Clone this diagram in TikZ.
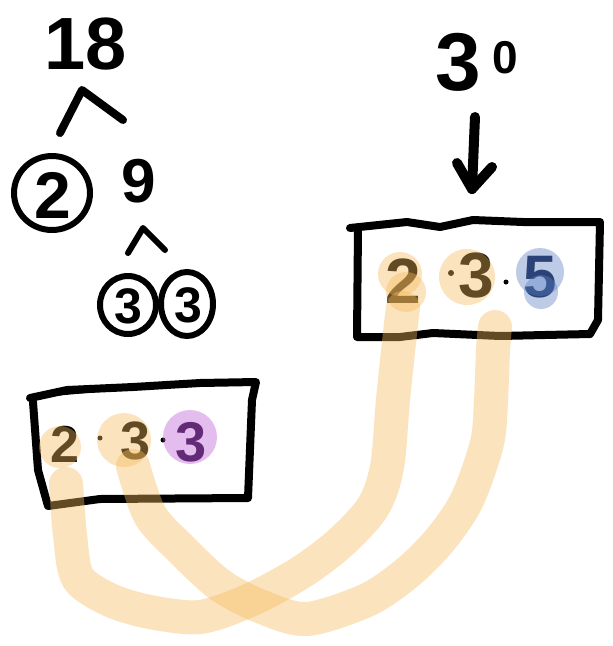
\documentclass[tikz,border=0pt]{standalone}
\usepackage{fontspec}
\setmainfont{Liberation Sans}
\definecolor{hlorange}{RGB}{247,187,90}
\definecolor{hlblue}{RGB}{92,127,197}
\definecolor{hlpurple}{RGB}{185,90,212}
\definecolor{inkpurple}{RGB}{42,10,58}
\definecolor{inknavy}{RGB}{10,26,64}
\tikzset{
  ink/.style={line width=8pt, line cap=round, line join=round, draw=black},
  boxline/.style={line width=8pt, line cap=round, line join=round, draw=black},
  ring/.style={line width=6pt, draw=black},
  digit/.style={inner sep=0pt, font=\fontsize{#1}{#1}\selectfont\bfseries},
  hlstroke/.style={line width=34pt, line cap=round, line join=round, draw=hlorange, draw opacity=0.4},
  blobo/.style={fill=hlorange, fill opacity=0.4},
  blobb/.style={fill=hlblue, fill opacity=0.4},
  blobp/.style={fill=hlpurple, fill opacity=0.4},
  dotmark/.style={circle, fill=black, inner sep=0pt, minimum size=6pt}
}
\begin{document}
\begin{tikzpicture}[x=1pt,y=-1pt]
\useasboundingbox (0,0) rectangle (613,646);
\fill[white] (0,0) rectangle (613,646);

% ---- factor tree of 18 ----
\node[digit=74] (n18) at (86,44) {18};
\coordinate (c1l) at (60,133);
\coordinate (c1a) at (82,90);
\coordinate (c1r) at (123,120);
\draw[ink] (c1l) -- (c1a) -- (c1r);
\node[digit=66] (n2a) at (53,195) {2};
\draw[ring] (52,193) ellipse (38 and 37);
\node[digit=62] (n9) at (139,181) {9};
\coordinate (c2l) at (128,253);
\coordinate (c2a) at (143,228);
\coordinate (c2r) at (165,250);
\draw[ink,line width=6pt] (c2l) -- (c2a) -- (c2r);
\node[digit=50] (n3a) at (128,306) {3};
\draw[ring] (128,305) ellipse (28 and 29);
\node[digit=50] (n3b) at (188,305) {3};
\draw[ring] (187,304) ellipse (26 and 32);

% ---- 30 and arrow ----
\node[digit=82] (n30a) at (458,62) {3};
\node[digit=46] (n30b) at (505,58) {0};
\coordinate (arrTop) at (475,117);
\coordinate (arrTip) at (472,189);
\draw[ink,line width=10pt] (arrTop) -- (arrTip);
\draw[ink,line width=10pt] (457,163) -- (arrTip) -- (492,167);

% ---- right box ----
\draw[boxline] (350,228) -- (407,222) -- (440,227) -- (473,220) -- (523,222) -- (600,222)
  -- (598,320) -- (590,334) -- (500,336) -- (433,333) -- (400,337) -- (357,337) -- (358,228);
\node[digit=64] (r2) at (403,281) {2};
\node[dotmark] (rd1) at (451,273) {};
\node[digit=64] (r3) at (476,276) {3};
\node[dotmark,minimum size=5pt] (rd2) at (506,282) {};
\node[digit=60,text=inknavy] (r5) at (540,277) {5};

% ---- left box ----
\draw[boxline] (30,398) -- (67,390) -- (133,387) -- (200,383) -- (256,382)
  -- (252,400) -- (248,498) -- (100,499) -- (48,506) -- (38,470) -- (33,402);
\draw[black,line width=4pt, line cap=round] (32,396) -- (120,388);
\node[digit=52] (l2) at (65,444) {2};
\node[dotmark,minimum size=5pt] (ld1) at (100,438) {};
\node[digit=54] (l3) at (136,441) {3};
\node[dotmark,minimum size=5pt] (ld2) at (163,440) {};
\node[digit=56,text=inkpurple] (l3p) at (191,442) {3};

% ---- highlight blobs ----
\fill[blobo] (400,274) circle (22);
\fill[blobo] (406,292) circle (20);
\fill[blobo] (467,277) circle (28);
\fill[blobb] (540,272) circle (24);
\fill[blobb] (541,292) circle (17);
\fill[blobo] (60,447) circle (21);
\fill[blobo] (124,440) circle (27);
\fill[blobp] (190,437) circle (27);

% ---- connecting strokes ----
\coordinate (sA) at (66,484);
\coordinate (eA) at (403,308);
\coordinate (sB) at (133,466);
\coordinate (eB) at (495,327);
\draw[hlstroke] plot[smooth, tension=0.5] coordinates {(sA) (70,535) (78,578) (110,600) (150,612) (200,617) (250,600) (300,573) (340,543) (373,507) (387,467) (393,400) (400,333) (eA)};
\draw[hlstroke] plot[smooth, tension=0.5] coordinates {(sB) (150,515) (180,548) (220,585) (262,607) (307,619) (367,600) (407,573) (440,540) (467,500) (487,443) (491,400) (493,350) (eB)};
\end{tikzpicture}
\end{document}
